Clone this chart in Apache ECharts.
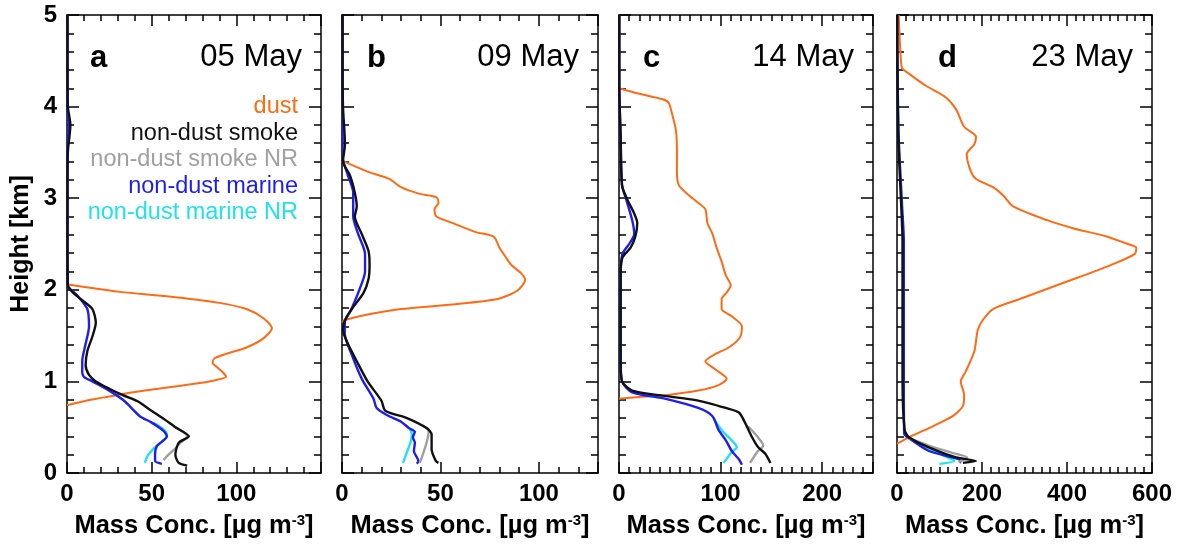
<!DOCTYPE html>
<html>
<head>
<meta charset="utf-8">
<title>Mass concentration profiles</title>
<script src="https://cdn.jsdelivr.net/npm/echarts@6/dist/echarts.min.js"></script>
<style>
body{margin:0;background:#fff;}
#main{width:1181px;height:544px;}
</style>
</head>
<body>
<div id="main"></div>
<script>
// panel settings
var panelTags  = ['a', 'b', 'c', 'd'];
var panelDates = ['05 May', '09 May', '14 May', '23 May'];
var xMax       = [150, 130, 250, 600];
var xMajor     = [50, 50, 100, 200];
var xMinor     = [10, 10, 10, 20];
var xLabelTop  = [100, 100, 200, 600];   // last x label shown
var yTicks     = [0, 1, 2, 3, 4, 5];

var seriesNames  = ['dust', 'non-dust smoke', 'non-dust smoke NR', 'non-dust marine', 'non-dust marine NR'];
var seriesColors = ['#ff6a14', '#111111', '#a0a0a0', '#1e1ef0', '#20e2ea'];

// ---- 05 May ----
var aDustH = [0.74,0.80,0.85,0.90,0.95,1.00,1.05,1.10,1.15,1.20,1.25,1.30,1.37,1.47,1.58,1.69,1.79,1.86,1.93,1.98,2.06];
var aDustV = [0,14,29,46,66,84,94,92,89,86,87,94,106,116,121,116,106,89,59,30,0];
var aSmokeH = [0.08,0.11,0.20,0.33,0.40,0.50,0.58,0.69,0.78,0.85,0.92,1.00,1.07,1.18,1.33,1.49,1.64,1.79,1.90,1.98,2.05,2.5,3.0,3.5,3.8,4.0,4.5,5.0];
var aSmokeV = [71,66,64,66,72,64,58,49,42,33,25,17,13,11,12,15,17,15,8,3,0.5,0.3,0.3,0.5,2,0.5,0.3,0.3];
var aSmokeNRH = [0.14,0.20,0.27,0.33,0.40,0.50];
var aSmokeNRV = [57,60,64,67,71,64];
var aMarineH = [0.10,0.13,0.20,0.29,0.40,0.46,0.55,0.62,0.73,0.80,0.91,1.00,1.05,1.10,1.22,1.41,1.60,1.79,1.94,2.05,2.5,3.0,3.5,3.8,4.0,5.0];
var aMarineV = [56,52,52,53,59,57,50,43,37,33,24,15,10,9,9,11,13,12,6,0.5,0.3,0.3,0.3,1,0.3,0.3];
var aMarineNRH = [0.11,0.20,0.30,0.40,0.46,0.55];
var aMarineNRV = [46,48,53,59,58,51];

// ---- 09 May ----
var bDustH = [1.65,1.67,1.73,1.79,1.84,1.90,1.99,2.11,2.18,2.27,2.33,2.46,2.58,2.63,2.73,2.80,2.88,2.95,3.01,3.05,3.12,3.21,3.29,3.41];
var bDustV = [0,1.5,13,30,56,79,89,93,91,86,84,80,77,68,56,48,47,49,48,39,30,24,13,0];
var bSmokeH = [0.11,0.13,0.26,0.42,0.49,0.60,0.68,0.79,1.00,1.22,1.41,1.56,1.67,1.79,1.97,2.12,2.27,2.42,2.61,2.80,2.91,3.06,3.25,3.40,3.59,4.0,4.5,5.0];
var bSmokeV = [49,47.7,45.5,45.5,43,33,22,20,13,7.5,3,0.5,1.5,5,11,13.5,14,13.5,10,6.5,7.5,6.5,4,0.5,1.5,0.5,0.3,0.3];
var bSmokeNRH = [0.11,0.45,0.52];
var bSmokeNRV = [39.5,44,41];
var bMarineH = [0.10,0.13,0.24,0.33,0.39,0.45,0.49,0.56,0.63,0.71,0.81,1.03,1.30,1.52,1.64,1.79,2.01,2.20,2.39,2.61,2.80,2.91,3.06,3.25,3.45,4.0,5.0];
var bMarineV = [38,38.8,36.5,37,36,37,34,30,23,17.6,16,10,4.8,1.4,1.4,4.8,9,11.7,11.7,8.2,5.7,5.7,5.7,3,0.3,0.3,0.3];
var bMarineNRH = [0.11,0.17,0.27,0.35,0.42,0.50];
var bMarineNRV = [31,32,33.7,35,35.5,34];

// ---- 14 May ----
var cDustH = [0.81,0.83,0.85,0.90,0.96,1.03,1.13,1.22,1.30,1.37,1.48,1.60,1.71,1.79,1.90,1.97,2.05,2.16,2.31,2.46,2.61,2.73,2.88,2.95,3.03,3.14,3.29,3.52,3.74,3.93,4.04,4.08,4.14,4.20];
var cDustV = [0,20,46,78,98,106,95,85,95,108,119,121,111,101,101,106,110,105,101,96,92,87,85,78,69,59,57,57,56,52,49,43,20,0];
var cSmokeH = [0.11,0.21,0.28,0.39,0.55,0.66,0.71,0.79,0.85,0.90,1.00,1.22,1.79,2.16,2.35,2.46,2.58,2.73,2.84,2.99,3.14,3.67,4.23,5.0];
var cSmokeV = [149,144,137,131,124,118,105,78,39,13,3,1.6,1.6,1.6,3.3,11.4,16,18,14.7,8,3,1.6,0.3,0.3];
var cSmokeNRH = [0.11,0.23,0.30,0.40,0.51];
var cSmokeNRV = [129,136,142,136,127];
var cMarineH = [0.09,0.15,0.24,0.36,0.47,0.62,0.71,0.81,0.88,1.00,1.22,1.79,2.16,2.39,2.50,2.61,2.76,2.99,3.14,3.67,4.23,5.0];
var cMarineV = [121,118,111,105,98,92,78,46,13,3,1.6,1.6,1.6,3.3,10,15,13,7,3,1.6,0.3,0.3];
var cMarineNRH = [0.11,0.23,0.28,0.32,0.47,0.60];
var cMarineNRV = [103,111,116,114,101,93];

// ---- 23 May ----
var dDustH = [0.32,0.39,0.49,0.62,0.73,0.85,1.00,1.11,1.33,1.56,1.67,1.79,1.90,2.09,2.27,2.39,2.46,2.50,2.58,2.67,2.76,2.91,3.03,3.12,3.21,3.29,3.48,3.59,3.67,3.78,3.97,4.10,4.23,4.36,4.42,4.60,5.0];
var dDustV = [0,28,75,131,155,158,150,162,182,190,202,226,289,400,503,559,563,543,495,416,353,273,250,226,186,174,164,182,186,158,139,115,67,28,12,8,4];
var dSmokeH = [0.11,0.13,0.17,0.28,0.39,0.47,1.03,1.79,2.54,2.91,3.67,4.5,5.0];
var dSmokeV = [155,186,139,75,28,18,13,13,13,10,3,1,0.5];
var dSmokeNRH = [0.12,0.17,0.22,0.30,0.38];
var dSmokeNRV = [145,165,130,75,28];
var dMarineH = [0.11,0.13,0.24,0.38,0.43,1.03,1.79,2.54,2.91,3.67,4.5,5.0];
var dMarineV = [147,150,75,28,17,16,16,16,12,4,1,0.5];
var dMarineNRH = [0.10,0.13,0.20,0.30,0.38];
var dMarineNRV = [100,135,105,60,28];

var panelData = [
	[[aDustH,aDustV],[aSmokeH,aSmokeV],[aSmokeNRH,aSmokeNRV],[aMarineH,aMarineV],[aMarineNRH,aMarineNRV]],
	[[bDustH,bDustV],[bSmokeH,bSmokeV],[bSmokeNRH,bSmokeNRV],[bMarineH,bMarineV],[bMarineNRH,bMarineNRV]],
	[[cDustH,cDustV],[cSmokeH,cSmokeV],[cSmokeNRH,cSmokeNRV],[cMarineH,cMarineV],[cMarineNRH,cMarineNRV]],
	[[dDustH,dDustV],[dSmokeH,dSmokeV],[dSmokeNRH,dSmokeNRV],[dMarineH,dMarineV],[dMarineNRH,dMarineNRV]]
];

var FONT = 'Liberation Sans, Arial, Helvetica, sans-serif';
var gridLeft  = [67, 342, 619, 897];
var gridWidth = [254, 256, 254, 255];
var gridTop = 15, gridHeight = 462;
var tagOffset = [23, 25, 24, 41];

function pairs(h, v){
	return h.map(function(y, k){ return [v[k], y]; });
}

var grids = [], xAxes = [], yAxes = [], series = [], graphics = [];
var black = {color:'#000', width:1.5};
var noLine = {show:false, onZero:false};

for (var i = 0; i < 4; i++) {
	grids.push({left:gridLeft[i], top:gridTop, width:gridWidth[i], height:gridHeight});

	(function(i){
		// bottom axis with labels
		xAxes.push({
			gridIndex:i, type:'value', position:'bottom', min:0, max:xMax[i], interval:xMajor[i],
			axisLine:{show:true, onZero:false, lineStyle:black},
			axisTick:{show:true, inside:true, length:11, lineStyle:black},
			splitLine:{show:false},
			axisLabel:{show:true, showMinLabel:true, showMaxLabel:true, margin:9,
				fontFamily:FONT, fontSize:24, fontWeight:'bold', color:'#000',
				formatter:function(v){ return (v % xMajor[i] === 0 && v <= xLabelTop[i]) ? String(v) : ''; }},
			name:'Mass Conc. [µg m{sup|-3}]', nameLocation:'middle', nameGap:40,
			nameTextStyle:{fontFamily:FONT, fontSize:25.5, fontWeight:'bold', color:'#000',
				rich:{sup:{fontFamily:FONT, fontSize:15, fontWeight:'bold', color:'#000', verticalAlign:'top', padding:[0,0,10,0]}}}
		});
	})(i);
	// top axis, and minor tick axes
	xAxes.push({gridIndex:i, type:'value', position:'top', min:0, max:xMax[i], interval:xMajor[i],
		axisLine:{show:true, onZero:false, lineStyle:black}, axisTick:{inside:true, length:11, lineStyle:black},
		axisLabel:{show:false}, splitLine:{show:false}});
	xAxes.push({gridIndex:i, type:'value', position:'bottom', min:0, max:xMax[i], interval:xMinor[i],
		axisLine:noLine, axisTick:{inside:true, length:6, lineStyle:black},
		axisLabel:{show:false}, splitLine:{show:false}});
	xAxes.push({gridIndex:i, type:'value', position:'top', min:0, max:xMax[i], interval:xMinor[i],
		axisLine:noLine, axisTick:{inside:true, length:6, lineStyle:black},
		axisLabel:{show:false}, splitLine:{show:false}});

	yAxes.push({gridIndex:i, type:'value', position:'left', min:yTicks[0], max:yTicks[yTicks.length-1], interval:1,
		axisLine:{show:true, onZero:false, lineStyle:black}, axisTick:{inside:true, length:12, lineStyle:black},
		splitLine:{show:false},
		axisLabel:{show:i === 0, margin:10, fontFamily:FONT, fontSize:24, fontWeight:'bold', color:'#000'},
		name:i === 0 ? 'Height [km]' : '', nameLocation:'middle', nameGap:33, nameRotate:90,
		nameTextStyle:{fontFamily:FONT, fontSize:25, fontWeight:'bold', color:'#000'}});
	yAxes.push({gridIndex:i, type:'value', position:'right', min:0, max:5, interval:1,
		axisLine:{show:true, onZero:false, lineStyle:black}, axisTick:{inside:true, length:12, lineStyle:black},
		axisLabel:{show:false}, splitLine:{show:false}});
	yAxes.push({gridIndex:i, type:'value', position:'left', min:0, max:5, interval:0.2,
		axisLine:noLine, axisTick:{inside:true, length:7, lineStyle:black},
		axisLabel:{show:false}, splitLine:{show:false}});
	yAxes.push({gridIndex:i, type:'value', position:'right', min:0, max:5, interval:0.2,
		axisLine:noLine, axisTick:{inside:true, length:7, lineStyle:black},
		axisLabel:{show:false}, splitLine:{show:false}});

	// draw order: dust, marine NR, marine, smoke NR, smoke
	[0, 4, 3, 2, 1].forEach(function(s){
		series.push({
			name:seriesNames[s], type:'line', xAxisIndex:4*i, yAxisIndex:4*i,
			data:pairs(panelData[i][s][0], panelData[i][s][1]),
			showSymbol:false, smooth:0.25, silent:true,
			lineStyle:{color:seriesColors[s], width:s === 0 ? 2 : 2.4},
			z:3
		});
	});

	graphics.push({type:'text', left:gridLeft[i] + tagOffset[i], top:43,
		style:{text:panelTags[i], font:'bold 31px ' + FONT, fill:'#000'}});
	graphics.push({type:'text', right:1181 - gridLeft[i] - gridWidth[i] + 19, top:42,
		style:{text:panelDates[i], font:'31px ' + FONT, fill:'#000'}});
}

// legend text in panel a
seriesNames.forEach(function(n, k){
	graphics.push({type:'text', right:1181 - 298, top:95 + k * 26.5,
		style:{text:n, font:'23.5px ' + FONT, fill:seriesColors[k]}});
});

var myChart = echarts.init(document.getElementById('main'));
myChart.setOption({
	backgroundColor:'#fff',
	animation:false,
	grid:grids,
	xAxis:xAxes,
	yAxis:yAxes,
	series:series,
	graphic:graphics
});
</script>
</body>
</html>
